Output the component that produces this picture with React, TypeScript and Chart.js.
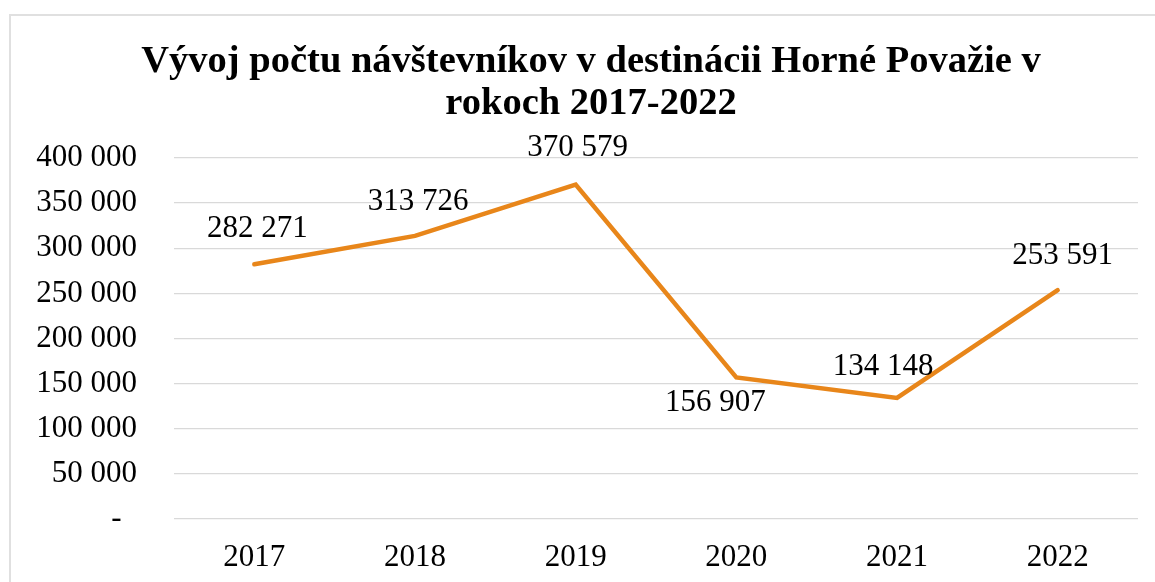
import React, { useEffect, useRef } from "react";
import { Chart, registerables } from "chart.js";

Chart.register(...registerables);

const TITLE_LINES = ["Vývoj počtu návštevníkov v destinácii Horné Považie v", "rokoch 2017-2022"];
const YEARS = ["2017", "2018", "2019", "2020", "2021", "2022"];
const VISITORS = [282271, 313726, 370579, 156907, 134148, 253591];
const Y_MIN = 0;
const Y_MAX = 400000;
const Y_STEP = 50000;

// label offsets relative to the point (styling only)
const LABEL_OFFSETS: [number, number][] = [
  [3, -35],
  [3, -34],
  [2, -37],
  [-21, 25],
  [-14, -31],
  [5, -34],
];

const SERIF = "'Liberation Serif', 'Times New Roman', serif";

function fmt(v: number): string {
  if (v === 0) return "-  ";
  return Math.round(v).toString().replace(/\B(?=(\d{3})+(?!\d))/g, " ");
}

const titlePlugin = {
  id: "customTitle",
  afterDraw(chart: any) {
    const ctx = chart.ctx;
    ctx.save();
    ctx.font = `bold 38.5px ${SERIF}`;
    ctx.fillStyle = "#000";
    ctx.textAlign = "center";
    ctx.textBaseline = "middle";
    TITLE_LINES.forEach((line, i) => {
      ctx.fillText(line, 591, 62 + i * 42);
    });
    ctx.restore();
  },
};

const dataLabelPlugin = {
  id: "dataLabels",
  afterDatasetsDraw(chart: any) {
    const ctx = chart.ctx;
    const meta = chart.getDatasetMeta(0);
    const ds = chart.data.datasets[0];
    ctx.save();
    ctx.font = `31px ${SERIF}`;
    ctx.fillStyle = "#000";
    ctx.textAlign = "center";
    ctx.textBaseline = "middle";
    meta.data.forEach((pt: any, i: number) => {
      const off = LABEL_OFFSETS[i] || [0, -35];
      ctx.fillText(fmt(ds.data[i] as number), pt.x + off[0], pt.y + off[1]);
    });
    ctx.restore();
  },
};

export default function App() {
  const ref = useRef<HTMLCanvasElement | null>(null);

  useEffect(() => {
    if (!ref.current) return;
    const chart = new Chart(ref.current, {
      type: "line",
      data: {
        labels: YEARS,
        datasets: [
          {
            data: VISITORS,
            borderColor: "#E8861A",
            backgroundColor: "#E8861A",
            borderWidth: 4.5,
            pointRadius: 0,
            pointHoverRadius: 0,
            tension: 0,
            borderCapStyle: "round",
            borderJoinStyle: "miter",
          },
        ],
      },
      options: {
        animation: false,
        responsive: false,
        maintainAspectRatio: false,
        layout: { padding: { left: 0, right: 17, top: 158, bottom: 0 } },
        plugins: {
          legend: { display: false },
          tooltip: { enabled: false },
          title: { display: false },
        },
        scales: {
          x: {
            offset: true,
            grid: { display: false, drawTicks: false },
            border: { display: false },
            ticks: {
              color: "#000",
              font: { family: SERIF, size: 31 },
              padding: 20,
              maxRotation: 0,
            },
            afterFit(scale: any) {
              scale.height = 63;
            },
          },
          y: {
            min: Y_MIN,
            max: Y_MAX,
            grid: { color: "#d9d9d9", lineWidth: 1.3, drawTicks: false },
            border: { display: false },
            ticks: {
              stepSize: Y_STEP,
              color: "#000",
              font: { family: SERIF, size: 31 },
              padding: 37,
              callback: (v: any) => fmt(Number(v)),
            },
            afterFit(scale: any) {
              scale.width = 174;
            },
          },
        },
      },
      plugins: [dataLabelPlugin, titlePlugin],
    });
    return () => chart.destroy();
  }, []);

  return (
    <div
      style={{
        position: "fixed",
        left: 0,
        top: 0,
        width: 1155,
        height: 582,
        overflow: "hidden",
        background: "#fff",
      }}
    >
      <div
        style={{
          position: "absolute",
          left: 9,
          top: 14,
          width: 1200,
          height: 620,
          border: "2px solid #e0e0e0",
          boxSizing: "border-box",
        }}
      />
      <canvas
        ref={ref}
        width={1155}
        height={582}
        style={{ position: "absolute", left: 0, top: 0, width: 1155, height: 582 }}
      />
    </div>
  );
}
